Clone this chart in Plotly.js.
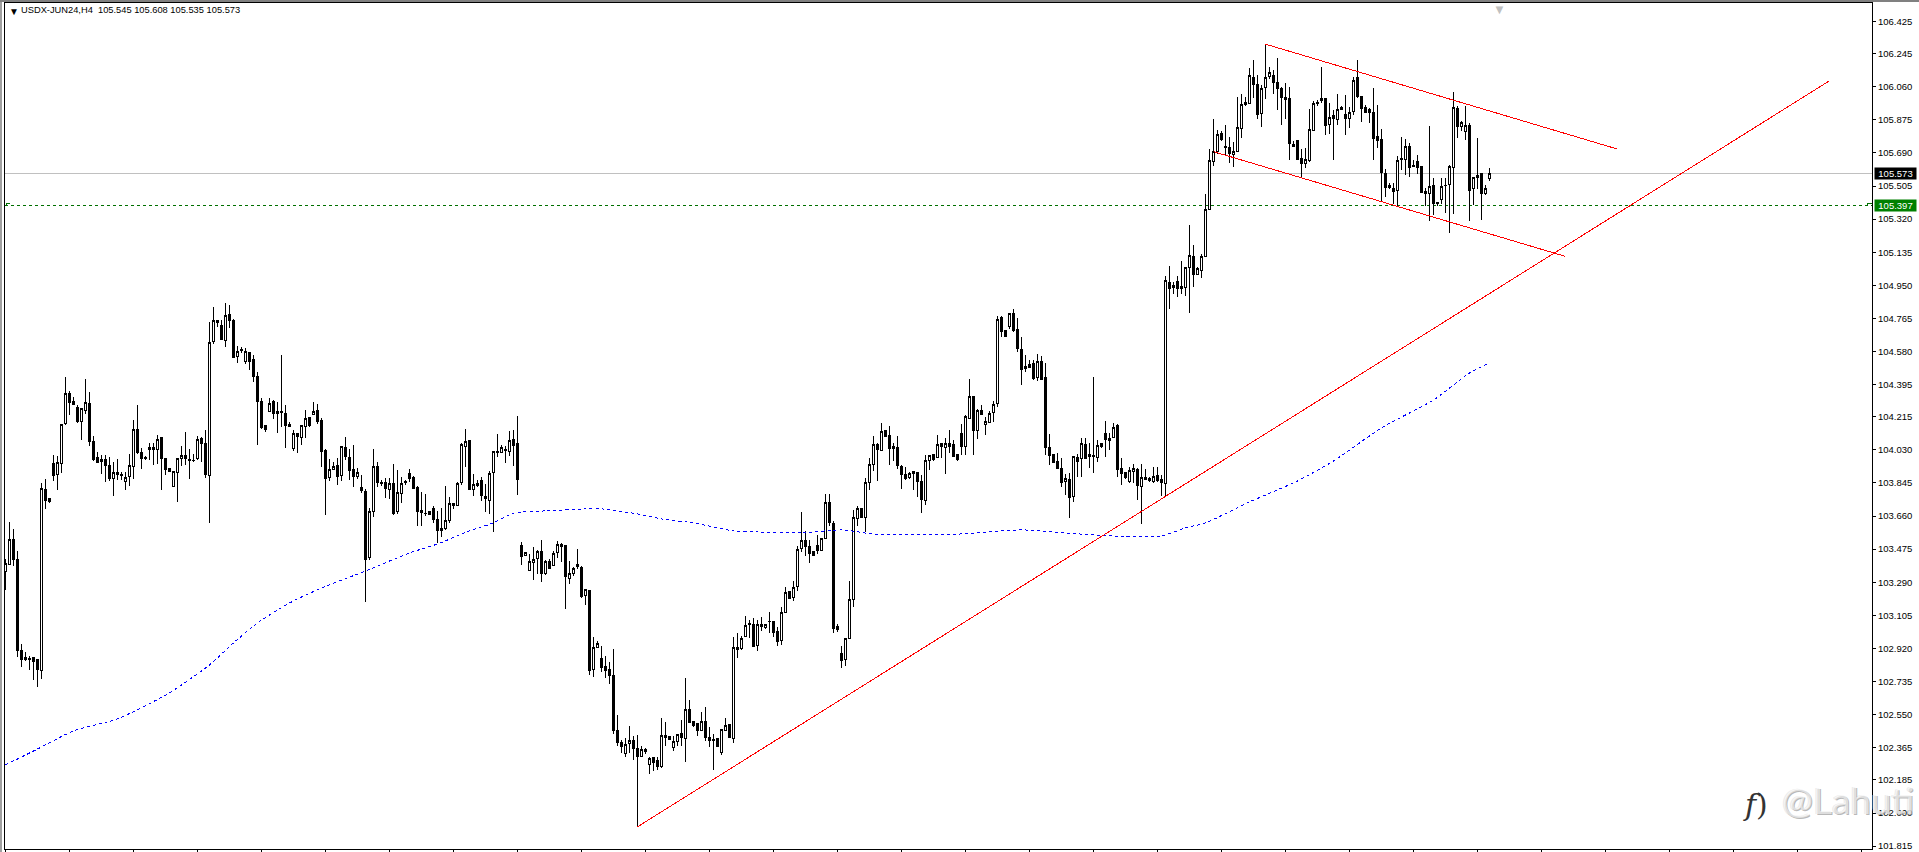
<!DOCTYPE html>
<html>
<head>
<meta charset="utf-8">
<script src="https://cdn.plot.ly/plotly-3.0.1.min.js"></script>
<style>
  html, body { margin: 0; padding: 0; background: #fff; overflow: hidden; }
  #plot { width: 1919px; height: 852px; }
  #plot path { shape-rendering: crispEdges !important; }
  .edge { position: absolute; background: #a0a0a0; z-index: 5; }
</style>
</head>
<body>
<div class="edge" style="left:0;top:0;width:2px;height:852px"></div>
<div class="edge" style="left:0;top:0;width:1919px;height:2px;background:#808080"></div>
<div id="plot"></div>
<script>
const opens = [
  103.350,103.391,103.527,103.419,102.906,102.871,102.864,102.867,102.856,102.797,
  103.810,103.756,103.955,103.892,103.955,104.175,104.347,104.298,104.268,104.188,
  104.250,104.291,104.078,103.985,103.965,103.978,103.944,103.870,103.905,103.894,
  103.853,103.881,103.937,104.142,104.013,103.989,104.032,104.045,104.032,104.097,
  103.980,103.924,103.825,103.903,103.981,104.000,103.978,103.972,103.980,104.095,
  104.063,103.886,104.635,104.755,104.728,104.641,104.784,104.751,104.552,104.592,
  104.524,104.572,104.533,104.442,104.302,104.164,104.244,104.298,104.242,104.242,
  104.235,104.170,104.035,104.123,104.101,104.160,104.211,104.229,104.248,
  104.197,104.024,103.875,103.920,103.940,103.886,104.045,103.989,103.918,103.879,
  103.817,103.795,103.430,103.685,103.938,103.849,103.849,103.808,103.843,103.683,
  103.788,103.851,103.899,103.877,103.817,103.693,103.676,103.683,103.704,103.642,
  103.579,103.590,103.637,103.728,103.719,103.847,104.050,104.084,103.808,103.830,
  103.860,103.771,103.747,103.905,104.020,104.017,104.032,104.020,104.089,104.063,
  103.497,103.441,103.357,103.400,103.424,103.463,103.339,103.404,103.383,103.456,
  103.499,103.493,103.311,103.337,103.391,103.374,103.217,103.245,102.804,102.925,
  102.865,102.821,102.804,102.767,102.463,102.396,102.334,102.388,102.407,102.362,
  102.316,102.353,102.271,102.308,102.292,102.260,102.431,102.426,102.364,102.398,
  102.443,102.418,102.580,102.510,102.499,102.459,102.512,102.424,102.409,102.415,
  102.338,102.463,102.493,102.417,102.927,102.919,102.986,103.057,103.055,102.936,
  103.055,103.035,103.072,103.068,103.016,102.964,103.121,103.240,103.204,103.266,
  103.478,103.521,103.491,103.460,103.493,103.467,103.534,103.737,103.620,103.040,
  102.890,102.860,102.977,103.193,103.648,103.700,103.652,103.849,103.948,104.058,
  104.026,104.140,104.112,104.047,104.045,103.938,103.894,103.875,103.907,103.905,
  103.855,103.747,103.972,104.002,103.989,104.063,104.045,104.067,104.058,104.002,
  104.123,104.048,104.205,104.326,104.138,104.252,104.171,104.185,104.239,104.287,
  104.768,104.697,104.717,104.794,104.704,104.592,104.484,104.505,104.511,104.434,
  104.522,104.432,104.041,104.002,103.965,103.927,103.853,103.866,103.769,103.985,
  103.981,104.058,104.002,104.000,103.987,104.065,104.123,104.082,104.099,104.164,
  103.927,103.905,103.851,103.909,103.922,103.825,103.877,103.872,103.851,103.888,
  103.866,103.842,104.967,104.947,104.973,104.934,104.939,105.051,105.111,105.012,
  105.034,105.112,105.372,105.642,105.696,105.800,105.724,105.722,105.681,105.698,
  105.828,105.959,105.968,106.113,106.071,105.910,106.058,106.115,106.125,106.086,
  106.052,105.998,105.992,105.739,105.761,105.661,105.631,105.650,105.817,105.972,
  105.981,105.996,105.849,105.897,105.877,105.942,105.903,105.882,105.922,106.110,
  106.004,105.946,105.935,105.914,105.784,105.763,105.577,105.497,105.493,105.480,
  105.661,105.653,105.724,105.622,105.640,105.612,105.476,105.461,105.510,105.413,
  105.430,105.510,105.514,105.610,105.936,105.838,105.812,105.841,105.491,105.555,
  105.573,105.465,105.545
]
const highs = [
  103.419,103.626,103.588,103.465,102.946,102.899,102.879,102.875,102.856,103.844,
  103.868,103.756,104.002,103.996,104.173,104.438,104.360,104.324,104.280,104.266,
  104.427,104.354,104.108,104.019,104.002,104.002,103.993,103.965,103.980,103.905,
  103.905,104.008,104.198,104.280,104.041,103.998,104.067,104.067,104.116,104.101,
  103.980,103.927,103.911,103.987,104.052,104.130,104.037,104.006,104.108,104.101,
  104.142,104.747,104.827,104.755,104.756,104.850,104.840,104.762,104.609,104.606,
  104.600,104.579,104.561,104.464,104.321,104.168,104.321,104.309,104.298,104.561,
  104.281,104.185,104.142,104.127,104.170,104.253,104.214,104.298,104.287,
  104.207,104.035,103.978,103.961,103.985,104.052,104.102,104.035,104.058,103.927,
  103.890,103.810,103.704,104.033,103.961,103.862,103.871,103.873,103.952,103.918,
  103.877,103.860,103.924,103.883,103.827,103.797,103.784,103.689,103.715,103.689,
  103.704,103.827,103.767,103.735,103.851,104.071,104.145,104.084,103.896,103.862,
  103.877,103.838,103.912,104.026,104.117,104.058,104.052,104.136,104.142,104.220,
  103.516,103.458,103.449,103.486,103.471,103.527,103.413,103.419,103.463,103.519,
  103.508,103.499,103.408,103.374,103.476,103.380,103.253,103.247,102.985,102.959,
  102.934,102.877,102.843,102.916,102.547,102.409,102.418,102.487,102.431,102.435,
  102.376,102.363,102.316,102.312,102.316,102.530,102.510,102.431,102.428,102.441,
  102.521,102.756,102.633,102.517,102.502,102.567,102.590,102.480,102.443,102.415,
  102.469,102.530,102.493,102.986,103.005,102.990,103.100,103.080,103.091,103.080,
  103.098,103.057,103.122,103.076,103.042,103.154,103.262,103.240,103.299,103.493,
  103.681,103.575,103.525,103.465,103.553,103.538,103.782,103.782,103.633,103.057,
  102.934,102.981,103.298,103.694,103.717,103.706,103.871,103.985,104.108,104.071,
  104.179,104.142,104.164,104.067,104.108,103.944,103.933,103.907,103.911,103.907,
  103.888,104.002,104.002,104.007,104.114,104.071,104.095,104.142,104.086,104.002,
  104.175,104.225,104.427,104.330,104.259,104.280,104.212,104.250,104.306,104.779,
  104.779,104.701,104.794,104.818,104.766,104.660,104.561,104.533,104.533,104.566,
  104.555,104.514,104.119,104.002,104.011,103.983,103.896,103.899,103.996,104.008,
  104.095,104.095,104.067,104.436,104.086,104.071,104.192,104.123,104.183,104.173,
  103.983,103.909,103.937,103.952,103.927,103.952,103.922,103.881,103.933,103.933,
  103.890,105.003,105.058,104.971,105.003,105.085,105.055,105.288,105.174,105.051,
  105.124,105.461,105.711,105.881,105.819,105.812,105.847,105.780,105.752,106.005,
  106.020,106.002,106.166,106.210,106.126,106.071,106.298,106.169,106.154,106.222,
  106.061,106.080,106.061,105.754,105.763,105.713,105.717,105.935,105.983,105.987,
  106.171,105.998,105.968,105.931,106.018,105.953,106.015,105.944,106.117,106.210,
  106.005,105.959,105.940,106.052,105.959,105.823,105.599,105.521,105.521,105.674,
  105.778,105.767,105.745,105.651,105.678,105.618,105.493,105.841,105.549,105.415,
  105.549,105.549,105.623,106.031,105.950,105.866,105.953,105.860,105.558,105.774,
  105.573,105.512,105.608
]
const lows = [
  103.247,103.387,103.383,102.875,102.819,102.851,102.797,102.741,102.707,102.750,
  103.702,103.732,103.858,103.806,103.903,104.170,104.225,104.280,104.183,104.086,
  104.231,104.054,103.968,103.955,103.896,103.851,103.855,103.773,103.862,103.862,
  103.806,103.829,103.868,104.008,103.924,103.972,103.974,103.946,103.953,103.803,
  103.890,103.907,103.823,103.739,103.940,103.944,103.868,103.963,103.974,103.963,
  103.873,103.624,104.622,104.719,104.645,104.606,104.714,104.544,104.518,104.574,
  104.511,104.477,104.408,104.060,104.149,104.132,104.242,104.203,104.125,104.160,
  104.043,104.158,104.024,104.015,104.058,104.095,104.160,104.225,104.175,
  103.937,103.666,103.858,103.918,103.834,103.857,103.974,103.862,103.825,103.868,
  103.791,103.180,103.415,103.655,103.825,103.830,103.762,103.756,103.666,103.672,
  103.734,103.836,103.851,103.810,103.605,103.605,103.661,103.666,103.624,103.510,
  103.545,103.583,103.620,103.700,103.717,103.834,103.933,103.806,103.773,103.825,
  103.747,103.683,103.672,103.571,103.991,104.013,103.957,103.996,103.940,103.778,
  103.387,103.439,103.354,103.303,103.337,103.292,103.331,103.365,103.381,103.426,
  103.406,103.143,103.281,103.327,103.365,103.203,103.163,102.769,102.763,102.923,
  102.789,102.757,102.722,102.444,102.377,102.338,102.316,102.338,102.297,101.921,
  102.312,102.331,102.219,102.236,102.241,102.253,102.372,102.409,102.349,102.372,
  102.376,102.286,102.502,102.480,102.428,102.456,102.400,102.368,102.241,102.372,
  102.327,102.461,102.420,102.390,102.867,102.912,102.983,102.979,102.927,102.908,
  103.020,103.031,103.009,102.986,102.934,102.942,103.119,103.199,103.188,103.244,
  103.462,103.439,103.400,103.437,103.449,103.463,103.530,103.605,103.009,103.014,
  102.808,102.823,102.973,103.154,103.605,103.650,103.571,103.808,103.912,103.857,
  104.022,104.102,103.946,103.968,103.925,103.812,103.864,103.868,103.806,103.769,
  103.680,103.722,103.918,103.970,103.985,103.985,103.896,104.011,103.991,103.970,
  104.004,104.004,104.203,104.002,104.093,104.225,104.114,104.181,104.188,104.272,
  104.663,104.661,104.706,104.691,104.579,104.393,104.466,104.486,104.421,104.417,
  104.419,104.004,103.948,103.955,103.922,103.821,103.778,103.652,103.741,103.881,
  103.881,103.980,103.929,103.903,103.961,104.043,103.993,104.030,104.095,103.877,
  103.831,103.868,103.847,103.844,103.750,103.616,103.862,103.851,103.847,103.851,
  103.773,103.773,104.816,104.902,104.887,104.902,104.891,104.794,104.943,105.008,
  104.991,105.111,105.370,105.618,105.685,105.759,105.674,105.633,105.609,105.694,
  105.773,105.953,105.961,105.996,105.879,105.836,105.992,106.104,106.017,105.931,
  105.847,105.881,105.651,105.724,105.651,105.549,105.603,105.640,105.814,105.950,
  105.968,105.791,105.795,105.648,105.847,105.931,105.791,105.832,105.903,105.996,
  105.864,105.914,105.860,105.651,105.717,105.419,105.441,105.491,105.402,105.391,
  105.596,105.566,105.558,105.612,105.573,105.465,105.391,105.307,105.344,105.391,
  105.405,105.353,105.245,105.350,105.773,105.812,105.761,105.307,105.400,105.487,
  105.316,105.452,105.535
]
const closes = [
  103.393,103.527,103.419,102.908,102.856,102.860,102.858,102.847,102.800,103.816,
  103.747,103.739,103.886,103.961,104.173,104.347,104.294,104.283,104.188,104.259,
  104.296,104.076,103.974,103.959,103.978,103.942,103.868,103.905,103.892,103.886,
  103.877,103.944,104.142,104.015,103.980,103.980,104.045,104.032,104.089,103.980,
  103.918,103.909,103.907,103.983,103.998,103.981,103.970,103.968,104.089,104.065,
  103.890,104.632,104.755,104.740,104.647,104.783,104.753,104.548,104.581,104.585,
  104.578,104.524,104.440,104.300,104.155,104.142,104.291,104.231,104.233,104.239,
  104.166,104.160,104.123,104.103,104.164,104.207,104.166,104.244,104.186,
  104.020,103.868,103.918,103.938,103.884,104.047,103.991,103.914,103.879,103.905,
  103.802,103.415,103.687,103.938,103.847,103.842,103.812,103.840,103.676,103.793,
  103.843,103.847,103.870,103.812,103.685,103.678,103.672,103.668,103.640,103.577,
  103.592,103.637,103.730,103.717,103.843,104.058,104.078,103.808,103.836,103.843,
  103.775,103.758,103.899,104.019,104.017,104.045,104.028,104.084,104.054,103.864,
  103.434,103.454,103.408,103.419,103.463,103.339,103.408,103.367,103.452,103.503,
  103.491,103.322,103.340,103.367,103.376,103.212,103.247,102.795,102.927,102.949,
  102.811,102.796,102.769,102.459,102.392,102.370,102.385,102.407,102.362,102.316,
  102.357,102.346,102.307,102.282,102.260,102.431,102.422,102.411,102.398,102.441,
  102.422,102.580,102.506,102.487,102.461,102.513,102.422,102.405,102.405,102.372,
  102.465,102.491,102.422,102.927,102.916,102.977,103.050,103.053,102.931,103.052,
  103.042,103.052,103.068,103.009,102.959,103.122,103.234,103.201,103.262,103.475,
  103.525,103.489,103.449,103.439,103.467,103.532,103.737,103.624,103.031,103.026,
  102.852,102.973,103.195,103.653,103.704,103.652,103.849,103.950,104.061,104.032,
  104.134,104.104,104.037,104.037,103.942,103.892,103.871,103.899,103.899,103.853,
  103.752,103.972,103.998,103.974,104.061,104.048,104.067,104.048,103.992,103.974,
  104.048,104.214,104.330,104.138,104.252,104.227,104.190,104.235,104.285,104.760,
  104.691,104.663,104.790,104.697,104.594,104.477,104.497,104.490,104.430,104.522,
  104.421,104.043,103.998,103.957,103.926,103.847,103.872,103.762,103.991,103.965,
  104.063,103.983,103.993,103.993,104.056,104.047,104.086,104.095,104.157,103.920,
  103.898,103.873,103.916,103.924,103.831,103.877,103.866,103.857,103.883,103.857,
  103.847,104.975,104.934,104.939,104.934,104.943,105.051,105.116,105.012,105.045,
  105.112,105.375,105.650,105.700,105.795,105.763,105.720,105.685,105.700,105.834,
  105.963,105.974,106.121,106.072,105.903,106.052,106.113,106.141,106.084,106.048,
  106.000,105.990,105.743,105.726,105.653,105.631,105.655,105.823,105.968,105.964,
  105.994,105.843,105.890,105.882,105.935,105.935,105.882,105.918,106.097,106.005,
  105.938,105.916,105.916,105.771,105.761,105.583,105.497,105.510,105.474,105.650,
  105.653,105.728,105.609,105.614,105.609,105.467,105.461,105.504,105.407,105.409,
  105.504,105.506,105.612,105.946,105.836,105.858,105.841,105.480,105.553,105.566,
  105.463,105.493,105.573
]

// moving average, read at a few bars only
const maBars = [1,9,18,29,42,52,58,64,69,73,80,91,102,109,117,123,128,136,146,150,159,165,173,183,189,200,210,218,240,250,255,260,266,277,290,296,301,312,324,333,345,358,367,372]
const maValues = [102.269,102.358,102.459,102.526,102.672,102.828,102.951,103.063,103.135,103.186,103.258,103.353,103.454,103.504,103.577,103.622,103.677,103.689,103.700,103.700,103.672,103.644,103.622,103.577,103.571,103.566,103.583,103.560,103.560,103.577,103.583,103.577,103.566,103.549,103.549,103.594,103.622,103.739,103.856,103.968,104.153,104.309,104.460,104.516]

// trend lines [start, end]
const supportBars = [159, 456.9]
const supportPrices = [101.923, 106.092]
const channelTopBars = [316, 403.9]
const channelTopPrices = [106.298, 105.712]
const channelBottomBars = [303, 390.9]
const channelBottomPrices = [105.697, 105.112]

const lastPrice = 105.573
const alertPrice = 105.397
// little hooks at both ends of the alert line
const alertHookBars = [[1.2, 1.2, 2.2], [466.4, 466.4, 467.6]]
const alertHookPrices = [105.397, 105.41, 105.41]

const tickPrices = [106.425,106.245,106.060,105.875,105.690,105.505,105.320,105.135,104.950,104.765,104.580,104.395,104.215,104.030,103.845,103.660,103.475,103.290,103.105,102.920,102.735,102.550,102.365,102.185,102.000,101.815]
const tickLabels = tickPrices.map(p => p.toFixed(3))

const bars = opens.map((_, i) => i + 1)
const font = 'Liberation Sans, Arial, sans-serif'

const redLine = (x, y) => ({
  x, y, type: 'scatter', mode: 'lines', hoverinfo: 'skip',
  line: { color: '#ff0000', width: 1 }
})

const hook = (x) => ({
  x, y: alertHookPrices, type: 'scatter', mode: 'lines', hoverinfo: 'skip',
  line: { color: '#007000', width: 1 }
})

const priceBox = (price, color) => ({
  xref: 'paper', x: 1, xanchor: 'left', xshift: 2,
  yref: 'y', y: price, yanchor: 'middle',
  text: price.toFixed(3), showarrow: false,
  width: 41, height: 11, align: 'center', borderpad: 0, bgcolor: color,
  font: { family: font, size: 9.5, color: '#fff' }
})

const corner = (text, xshift, yshift, size, color) => ({
  xref: 'paper', x: 0, xanchor: 'left', xshift,
  yref: 'paper', y: 1, yanchor: 'top', yshift,
  text, showarrow: false, borderpad: 0,
  font: { family: font, size, color }
})

Plotly.newPlot('plot', [{
  x: bars, open: opens, high: highs, low: lows, close: closes,
  type: 'candlestick', whiskerwidth: 0, hoverinfo: 'skip',
  increasing: { line: { color: '#000', width: 1 }, fillcolor: '#fff' },
  decreasing: { line: { color: '#000', width: 1 }, fillcolor: '#000' }
}, {
  x: maBars, y: maValues, type: 'scatter', mode: 'lines', hoverinfo: 'skip',
  line: { color: '#0000ff', width: 1, dash: '3px,3px', shape: 'spline', smoothing: 0.6 }
},
  redLine(supportBars, supportPrices),
  redLine(channelTopBars, channelTopPrices),
  redLine(channelBottomBars, channelBottomPrices),
  hook(alertHookBars[0]),
  hook(alertHookBars[1])
], {
  width: 1919,
  height: 852,
  margin: { t: 3, r: 47, l: 5, b: 3, pad: 0 },
  paper_bgcolor: '#fff',
  plot_bgcolor: '#fff',
  showlegend: false,
  boxgap: 0.5,
  xaxis: {
    range: [0.875, 467.625],
    rangeslider: { visible: false },
    showgrid: false, zeroline: false,
    showline: true, mirror: true, linecolor: '#000', linewidth: 1,
    tick0: 1, dtick: 16, ticks: 'outside', ticklen: 3, tickcolor: '#000',
    showticklabels: false
  },
  yaxis: {
    side: 'right',
    range: [101.799, 106.528],
    showgrid: false, zeroline: false,
    showline: true, mirror: true, linecolor: '#000', linewidth: 1,
    tickmode: 'array', tickvals: tickPrices, ticktext: tickLabels,
    ticks: 'outside', ticklen: 3, tickcolor: '#000',
    tickfont: { family: font, size: 9.5, color: '#000' }
  },
  shapes: [
    { type: 'line', layer: 'below', xref: 'paper', x0: 0, x1: 1, yref: 'y', y0: lastPrice, y1: lastPrice, line: { color: '#c0c0c0', width: 1 } },
    { type: 'line', layer: 'below', xref: 'paper', x0: 0, x1: 1, yref: 'y', y0: alertPrice, y1: alertPrice, line: { color: '#007000', width: 1, dash: '3px,3px' } }
  ],
  annotations: [
    corner('▼', 3, -2, 10, '#000'),
    corner('USDX-JUN24,H4  105.545 105.608 105.535 105.573', 15, -1, 9.3, '#000'),
    corner('▼', 1487, 2, 13, '#c0c0c0'),
    priceBox(lastPrice, '#000'),
    priceBox(alertPrice, '#008000'),
    {
      xref: 'paper', x: 0, xanchor: 'left', xshift: 1775,
      yref: 'paper', y: 0, yanchor: 'bottom', yshift: 25,
      text: '@Lahuti', showarrow: false,
      font: { family: 'Lato, sans-serif', size: 37, color: 'rgba(255,255,255,0.6)', shadow: '1px 1px 0 #888, -1px 0 0 #ddd' }
    },
    {
      xref: 'paper', x: 0, xanchor: 'left', xshift: 1736,
      yref: 'paper', y: 0, yanchor: 'bottom', yshift: 25,
      text: '<i>f</i>)', showarrow: false,
      font: { family: 'DejaVu Serif, serif', size: 30, color: '#333' }
    }
  ]
}, {
  displayModeBar: false
})
</script>
</body>
</html>
